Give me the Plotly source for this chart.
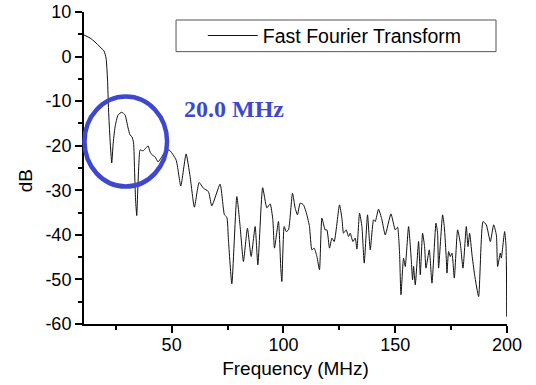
import plotly.graph_objects as go

freq_mhz = [10.81, 13.50, 15.73, 17.97, 19.76, 20.66, 21.33, 21.78, 22.45, 23.21, 23.79, 24.69,
            26.03, 27.69, 29.16, 30.51, 31.40, 32.30, 32.97, 33.41, 33.86, 34.40, 34.76, 35.43,
            35.88, 37.22, 38.11, 39.46, 40.35, 41.25, 42.59, 43.93, 45.28, 47.07, 48.86, 51.99,
            54.09, 56.47, 58.26, 60.18, 62.28, 64.21, 66.45, 67.97, 71.68, 73.61, 74.68, 75.40,
            76.92, 79.16, 80.64, 82.11, 83.90, 85.56, 87.35, 88.56, 90.71, 92.59, 94.07, 95.27,
            95.99, 97.78, 98.85, 99.30, 100.33, 101.23, 102.26, 104.05, 105.26, 106.28, 107.49,
            108.97, 110.49, 111.66, 112.73, 113.76, 114.97, 116.13, 117.21, 118.68, 119.44,
            120.61, 121.68, 122.71, 125.08, 126.16, 126.88, 128.08, 129.11, 129.87, 131.08,
            132.11, 132.87, 134.04, 135.11, 136.14, 137.62, 138.83, 140.31, 141.07, 142.54,
            144.06, 145.54, 148.09, 150.01, 151.04, 151.94, 152.57, 153.73, 154.49, 155.97,
            157.18, 157.76, 158.21, 158.97, 160.45, 161.21, 162.24, 163.13, 163.76, 165.24,
            166.44, 168.23, 168.95, 169.40, 171.19, 171.95, 172.84, 173.16, 173.88, 174.64,
            175.40, 176.43, 177.91, 179.12, 180.32, 181.80, 182.56, 183.28, 184.35, 185.51,
            187.30, 189.27, 190.75, 192.54, 194.02, 195.23, 195.81, 197.02, 197.46, 198.94,
            199.57, 199.95, 200.0]

db_values = [4.84, 4.17, 3.27, 2.15, 1.26, -0.31, -5.25, -11.97, -18.70, -23.85, -19.82, -15.78,
             -13.09, -12.49, -13.09, -16.01, -17.58, -18.03, -19.37, -25.42, -32.15, -35.67, -31.03, -23.18,
             -20.94, -21.16, -20.72, -20.04, -21.39, -22.06, -22.51, -23.63, -22.73, -21.39, -20.94, -23.18,
             -29.01, -21.84, -26.93, -33.79, -28.27, -29.53, -30.29, -33.49, -28.63, -35.51, -36.03, -41.12,
             -50.98, -31.41, -38.14, -45.98, -38.49, -44.86, -38.14, -46.72, -29.41, -33.94, -33.05, -36.63,
             -42.98, -37.01, -47.84, -50.47, -38.14, -39.26, -38.88, -30.65, -34.01, -35.51, -32.89,
             -33.27, -35.51, -38.14, -43.36, -42.98, -44.86, -47.84, -36.25, -38.88, -38.88,
             -42.98, -40.74, -41.50, -33.27, -36.25, -39.62, -38.88, -40.38, -39.62, -41.50,
             -40.74, -43.20, -35.13, -38.14, -46.34, -35.51, -43.36, -36.63, -37.01, -34.24,
             -36.63, -40.00, -35.29, -38.88, -38.27, -44.10, -53.45, -45.22, -47.10, -38.14,
             -45.60, -50.09, -47.10, -51.21, -41.50, -48.96, -39.62, -42.62, -47.46, -43.36,
             -50.83, -37.37, -39.62, -47.46, -35.51, -38.14, -45.22, -48.58, -43.74, -44.86,
             -44.10, -49.70, -38.88, -41.86, -47.46, -38.14, -42.62, -39.62, -44.48, -48.96,
             -53.83, -37.01, -37.75, -41.50, -37.75, -40.00, -47.10, -44.10, -45.22, -39.26,
             -42.62, -58.31, -47.10]

x_ticks = [50, 100, 150, 200]
x_minor = [25, 75, 125, 175]
y_ticks = [-60, -50, -40, -30, -20, -10, 0, 10]
y_tick_text = ["-60", "-50", "-40", "-30", "-20", "-10", "0", "10"]
y_minor = [-55, -45, -35, -25, -15, -5, 5]

series_name = "Fast Fourier Transform"
note_text = "20.0 MHz"

FONT = "Arial, Liberation Sans, sans-serif"
BLUE = "#3f48cc"

fig = go.Figure()
fig.add_trace(go.Scatter(x=freq_mhz, y=db_values, mode="lines", name=series_name,
                         line=dict(color="#111111", width=1, shape="spline", smoothing=0.5)))

axis_common = dict(showline=True, linecolor="black", linewidth=2, ticks="outside",
                   ticklen=7, tickwidth=1.5, tickcolor="black", showgrid=False,
                   zeroline=False, mirror=False, automargin=False,
                   tickfont=dict(family=FONT, size=18, color="black"))

fig.update_xaxes(range=[10.8, 200], tickmode="array", tickvals=x_ticks,
                 ticklabelstandoff=-4,
                 minor=dict(tickvals=x_minor, ticks="outside", ticklen=4, tickwidth=1.5,
                            tickcolor="black", showgrid=False),
                 title=dict(text="Frequency (MHz)", font=dict(family=FONT, size=19, color="black"),
                            standoff=8),
                 **axis_common)
fig.update_yaxes(range=[-60, 10], tickmode="array", tickvals=y_ticks, ticktext=y_tick_text,
                 minor=dict(tickvals=y_minor, ticks="outside", ticklen=4, tickwidth=1.5,
                            tickcolor="black", showgrid=False),
                 **axis_common)

fig.update_layout(
    width=536, height=385,
    margin=dict(l=84, r=29, t=12, b=61),
    paper_bgcolor="white", plot_bgcolor="white",
    showlegend=True,
    legend=dict(x=(202.7 - 84) / 422.7, y=(324.3 - 35.85) / 312.3, xanchor="left", yanchor="middle",
                bgcolor="rgba(0,0,0,0)", borderwidth=0, itemwidth=50,
                font=dict(family=FONT, size=19.5, color="black")),
    shapes=[
        dict(type="rect", xref="paper", yref="paper", x0=0.2176, x1=0.974, y0=0.8729, y1=0.9744,
             line=dict(color="#555555", width=1), fillcolor="rgba(0,0,0,0)"),
        dict(type="circle", xref="paper", yref="paper", x0=0.0012, x1=0.1964, y0=0.4406, y1=0.7288,
             line=dict(color=BLUE, width=4.5)),
    ],
    annotations=[
        dict(text=note_text, xref="paper", yref="paper", x=0.3537, y=0.6904,
             xanchor="center", yanchor="middle", showarrow=False,
             font=dict(family="Times New Roman, Liberation Serif, serif", size=24, color=BLUE,
                       weight="bold")),
        dict(text="dB", xref="paper", yref="paper", x=(25.5 - 84) / 422.7, y=(324.3 - 181) / 312.3,
             xanchor="center", yanchor="middle", showarrow=False, textangle=-90,
             font=dict(family=FONT, size=19, color="black")),
    ],
)

fig.write_html("out.html")
